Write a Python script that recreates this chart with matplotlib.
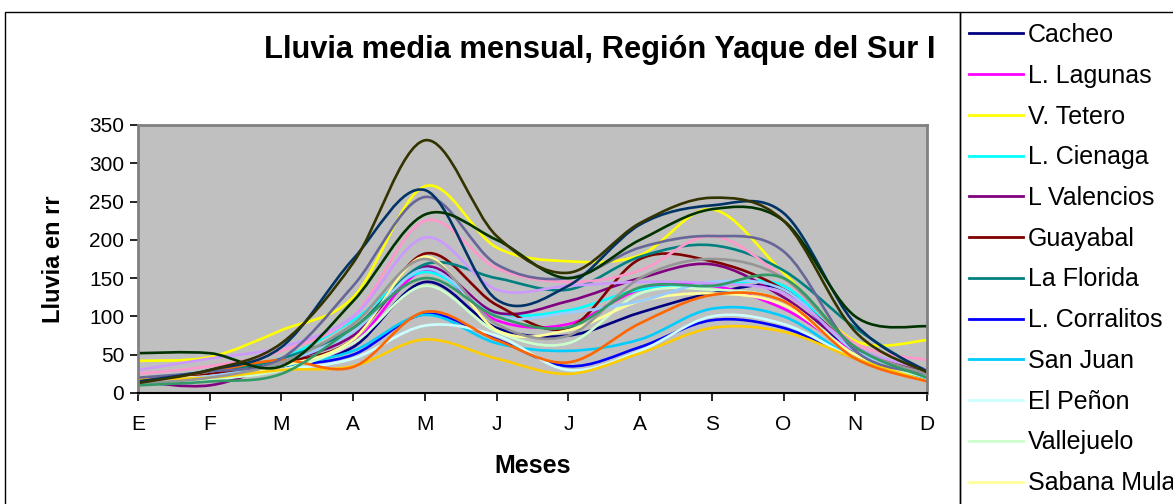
"""Lluvia media mensual, Region Yaque del Sur I - Excel style smoothed lines."""

import matplotlib
matplotlib.use("Agg")
import matplotlib.pyplot as plt
import numpy as np
from matplotlib.lines import Line2D
from matplotlib.patches import PathPatch, Rectangle
from matplotlib.path import Path

plt.rcParams["font.family"] = ["Liberation Sans", "DejaVu Sans"]

W, H = 1173, 504

meses = ["E", "F", "M", "A", "M", "J", "J", "A", "S", "O", "N", "D"]

# estaciones con nombre visible en la leyenda
cacheo = [15, 22, 35, 60, 145, 85, 75, 105, 130, 135, 50, 25]
l_lagunas = [15, 20, 35, 65, 160, 95, 90, 135, 140, 110, 55, 30]
v_tetero = [42, 47, 82, 125, 270, 190, 172, 180, 240, 157, 68, 69]
l_cienaga = [18, 25, 45, 95, 158, 105, 108, 135, 140, 140, 55, 28]
l_valencios = [15, 10, 40, 75, 165, 105, 120, 150, 168, 125, 58, 30]
guayabal = [15, 25, 40, 70, 182, 115, 85, 175, 172, 135, 60, 25]
la_florida = [18, 28, 45, 85, 168, 150, 135, 178, 193, 160, 85, 25]
l_corralitos = [15, 22, 35, 50, 103, 70, 35, 60, 95, 85, 45, 20]
san_juan = [12, 20, 35, 55, 102, 65, 55, 70, 110, 100, 45, 20]
el_penon = [12, 18, 30, 45, 88, 75, 30, 55, 100, 90, 45, 15]
vallejuelo = [15, 18, 30, 65, 140, 80, 65, 130, 135, 120, 50, 20]
sabana_mula = [18, 22, 35, 70, 178, 82, 82, 120, 130, 115, 50, 25]
# resto de estaciones (leyenda cortada en el original)
serie_13 = [15, 22, 40, 80, 162, 100, 105, 120, 145, 135, 55, 25]
serie_14 = [25, 35, 55, 100, 225, 163, 145, 160, 205, 150, 65, 43]
serie_15 = [30, 45, 60, 100, 203, 135, 140, 145, 143, 130, 60, 30]
serie_20 = [18, 20, 30, 35, 70, 45, 25, 52, 85, 80, 45, 15]
serie_22 = [15, 28, 43, 34, 106, 69, 40, 91, 128, 120, 45, 15]
serie_23 = [20, 28, 45, 140, 256, 168, 150, 190, 205, 185, 55, 25]
serie_24 = [12, 20, 40, 90, 175, 90, 75, 150, 175, 150, 60, 25]
serie_25 = [15, 30, 60, 175, 265, 122, 140, 220, 245, 235, 90, 28]
serie_26 = [10, 15, 25, 85, 150, 100, 86, 138, 140, 150, 60, 20]
serie_27 = [52, 52, 35, 120, 233, 200, 150, 200, 240, 225, 100, 87]
serie_28 = [13, 30, 65, 170, 330, 205, 157, 222, 255, 225, 80, 27]

nombres = ["Cacheo", "L. Lagunas", "V. Tetero", "L. Cienaga", "L Valencios",
           "Guayabal", "La Florida", "L. Corralitos", "San Juan", "El Peñon",
           "Vallejuelo", "Sabana Mula"]

series = [cacheo, l_lagunas, v_tetero, l_cienaga, l_valencios, guayabal,
          la_florida, l_corralitos, san_juan, el_penon, vallejuelo, sabana_mula,
          serie_13, serie_14, serie_15, serie_20, serie_22, serie_23, serie_24,
          serie_25, serie_26, serie_27, serie_28]
colores = ["#000080", "#FF00FF", "#FFFF00", "#00FFFF", "#800080", "#800000",
           "#008080", "#0000FF", "#00CCFF", "#CCFFFF", "#CCFFCC", "#FFFF99",
           "#99CCFF", "#FF99CC", "#CC99FF", "#FFCC00", "#FF6600", "#666699",
           "#969696", "#003366", "#339966", "#003300", "#333300"]


def smooth_path(x, y):
    """Bezier path through the points, like Excel's smoothed line."""
    p = np.column_stack([x, y]).astype(float)
    ext = np.vstack([p[0], p, p[-1]])
    verts = [p[0]]
    codes = [Path.MOVETO]
    for i in range(len(p) - 1):
        p0, p1, p2, p3 = ext[i], ext[i + 1], ext[i + 2], ext[i + 3]
        verts += [p1 + (p2 - p0) / 6, p2 - (p3 - p1) / 6, p2]
        codes += [Path.CURVE4] * 3
    return Path(verts, codes)


fig = plt.figure(figsize=(W / 100, H / 100), dpi=100)
ax = fig.add_axes([138 / W, 1 - 393 / H, (927 - 138) / W, (393 - 125) / H])
ax.set_facecolor("#C0C0C0")

x = np.arange(len(meses))
for vals, c in zip(series, colores):
    ax.add_patch(PathPatch(smooth_path(x, vals), fill=False, edgecolor=c,
                           lw=1.9, capstyle="butt", joinstyle="round"))

ax.set_xlim(0, len(meses) - 1)
ax.set_ylim(0, 350)
ax.set_xticks(x)
ax.set_xticklabels(meses)
ax.set_yticks(np.arange(0, 351, 50))
ax.tick_params(axis="both", direction="out", length=6, width=1.2,
               labelsize=15, colors="black", pad=4)
ax.tick_params(axis="x", pad=10)
for s in ["top", "right", "left"]:
    ax.spines[s].set_color("#808080")
    ax.spines[s].set_linewidth(2)
ax.spines["bottom"].set_color("black")
ax.spines["bottom"].set_linewidth(1.5)

ax.set_xlabel("Meses", fontsize=18, fontweight="bold", labelpad=14)
ax.set_ylabel("Lluvia en rr", fontsize=17, fontweight="bold", labelpad=17)
fig.text(600 / W, 1 - 50 / H, "Lluvia media mensual, Región Yaque del Sur I",
         fontsize=22.2, fontweight="bold", ha="center", va="center")

# bordes del area del grafico y de la leyenda
fig.add_artist(Rectangle((5 / W, -0.2), (960 - 5) / W, 1.2 - 12 / H,
                         transform=fig.transFigure, fill=False,
                         edgecolor="black", lw=1))
fig.add_artist(Rectangle((960 / W, -0.2), 0.3, 1.2 - 12 / H,
                         transform=fig.transFigure, fill=False,
                         edgecolor="black", lw=1))

handles = [Line2D([], [], color=c, lw=2) for c in colores[:12]]
fig.legend(handles, nombres, loc="upper left",
           bbox_to_anchor=(969 / W, 1 - 23 / H), frameon=False, fontsize=18,
           handlelength=2.15, handletextpad=0.2, labelspacing=0.67,
           borderpad=0, borderaxespad=0)

fig.savefig("out.png", dpi=100)
